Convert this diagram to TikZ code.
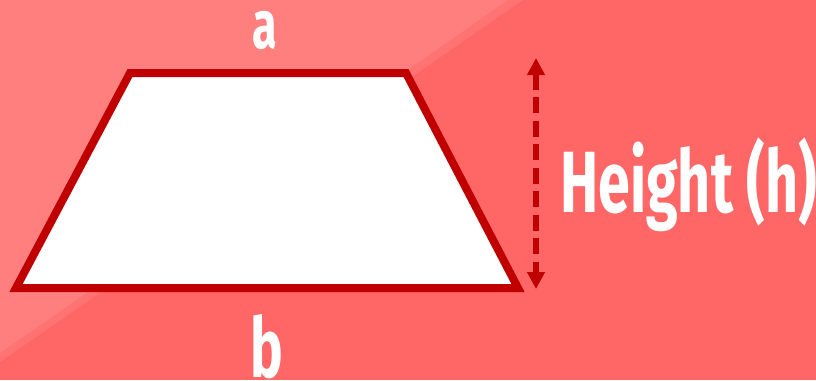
\documentclass[tikz,border=0pt]{standalone}
\usepackage{fontspec}
\newfontfamily\labelfont[FakeStretch=0.66]{Fira Sans}
\usetikzlibrary{arrows.meta}
\definecolor{cBack}{HTML}{FF6666}
\definecolor{cBand}{HTML}{FF7373}
\definecolor{cLight}{HTML}{FF7F7F}
\definecolor{cEdge}{HTML}{C00000}
\tikzset{
  trap/.style={draw=cEdge, fill=white, line width=8pt, miter limit=10},
  harrow/.style={{Triangle[length=17pt,width=17pt]}-{Triangle[length=17pt,width=17pt]},
    line width=6pt, color=cEdge, dash pattern=on 16pt off 7.5pt},
  side/.style={text=white, inner sep=0pt, anchor=base, font=\labelfont\bfseries\fontsize{#1}{#1}\selectfont},
}

\begin{document}
\begin{tikzpicture}[x=1pt,y=-1pt]

  % ---------- background ----------
  \useasboundingbox (0,0) rectangle (816,380);
  \fill[cBack]  (0,0) rectangle (816,380);
  \fill[cBand]  (0,0) -- (523,0) -- (0,362) -- cycle;
  \fill[cLight] (0,0) -- (508,0) -- (0,353) -- cycle;

  % ---------- trapezoid ----------
  \coordinate (tl) at (130,73);
  \coordinate (tr) at (406,73);
  \coordinate (br) at (518,288);
  \coordinate (bl) at (16,288);
  \draw[trap] (tl) -- (tr) -- (br) -- (bl) -- cycle;

  % ---------- labels ----------
  \node[side=68pt] (la) at (264.5,48) {a};
  \node[side=83pt] (lb) at (267,377) {b};
  \node[side=87pt, anchor=base west] (lh) at (560,212) {Height (h)};

  % ---------- height arrow ----------
  \coordinate (htop) at (536,58);
  \coordinate (hbot) at (536,289);
  \draw[harrow] (htop) -- (hbot);

\end{tikzpicture}
\end{document}
